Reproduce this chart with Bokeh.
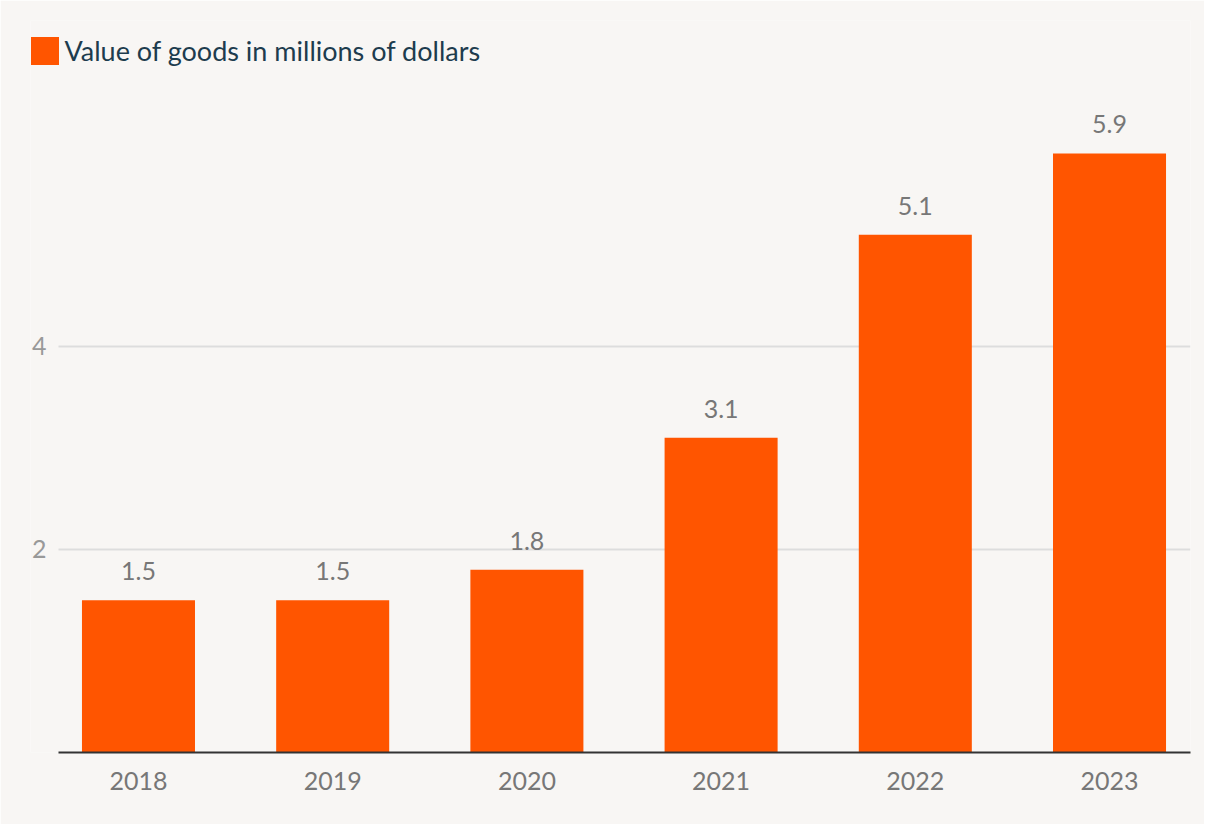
from bokeh.plotting import figure
from bokeh.models import ColumnDataSource, Range1d, FixedTicker, LabelSet, Legend, LegendItem, Grid
from bokeh.embed import file_html
from bokeh.resources import INLINE
from bokeh.core.properties import value

years = ["2018", "2019", "2020", "2021", "2022", "2023"]
values = [1.5, 1.5, 1.8, 3.1, 5.1, 5.9]
labels = ["1.5", "1.5", "1.8", "3.1", "5.1", "5.9"]
y_ticks = [2, 4]
series_name = "Value of goods in millions of dollars"

BG = "#f8f6f4"
BAR = "#ff5500"
FONT = "Lato"

pos = list(range(len(years)))
src = ColumnDataSource(dict(x=pos, top=values, label=labels, year=years))

p = figure(
    x_range=Range1d(-0.556, len(years) - 1 + 0.417),
    y_range=Range1d(0, 7.21),
    width=1204, height=824,
    output_backend="svg", toolbar_location=None,
    min_border_left=30, min_border_right=14, min_border_top=20, min_border_bottom=72,
)
p.background_fill_color = BG
p.border_fill_color = BG
p.outline_line_color = None

r = p.vbar(x="x", top="top", width=0.582, source=src, color=BAR, line_color=None)

p.add_layout(LabelSet(x="x", y="top", text="label", source=src, text_align="center",
                      text_baseline="bottom", y_offset=20, text_font=value(FONT),
                      text_font_size="25px", text_color="#777777"))

inner_left = -0.412
inner_right = len(years) - 1 + 0.417

p.xgrid.grid_line_color = None
p.ygrid.grid_line_color = "#dddddd"
p.ygrid.grid_line_width = 2
p.ygrid.ticker = FixedTicker(ticks=y_ticks)
if "cross_bounds" in Grid.properties():
    p.ygrid.cross_bounds = (inner_left, inner_right)

p.yaxis.ticker = FixedTicker(ticks=y_ticks)
p.yaxis.axis_line_color = None
p.yaxis.major_tick_line_color = None
p.yaxis.minor_tick_line_color = None
p.yaxis.major_label_text_font = FONT
p.yaxis.major_label_text_font_size = "25px"
p.yaxis.major_label_text_color = "#999999"
p.yaxis.major_label_standoff = -22

p.xaxis.ticker = FixedTicker(ticks=pos)
p.xaxis.major_label_overrides = {i: y for i, y in zip(pos, years)}
p.xaxis.bounds = (inner_left, inner_right)
p.xaxis.axis_line_color = "#333333"
p.xaxis.axis_line_width = 2
p.xaxis.major_tick_line_color = None
p.xaxis.minor_tick_line_color = None
p.xaxis.major_label_text_font = FONT
p.xaxis.major_label_text_font_size = "25px"
p.xaxis.major_label_text_color = "#777777"
p.xaxis.major_label_standoff = 13

legend = Legend(items=[LegendItem(label=series_name, renderers=[r])],
                location=(-3.5, 684.5), orientation="horizontal",
                padding=0, margin=0, spacing=0,
                glyph_width=35, glyph_height=35, label_standoff=3,
                label_text_font=FONT, label_text_font_size="27px",
                label_text_color="#1d3c4e", label_height=35,
                border_line_color=None, background_fill_alpha=0)
p.add_layout(legend)

open("out.html", "w").write(file_html(p, INLINE))
